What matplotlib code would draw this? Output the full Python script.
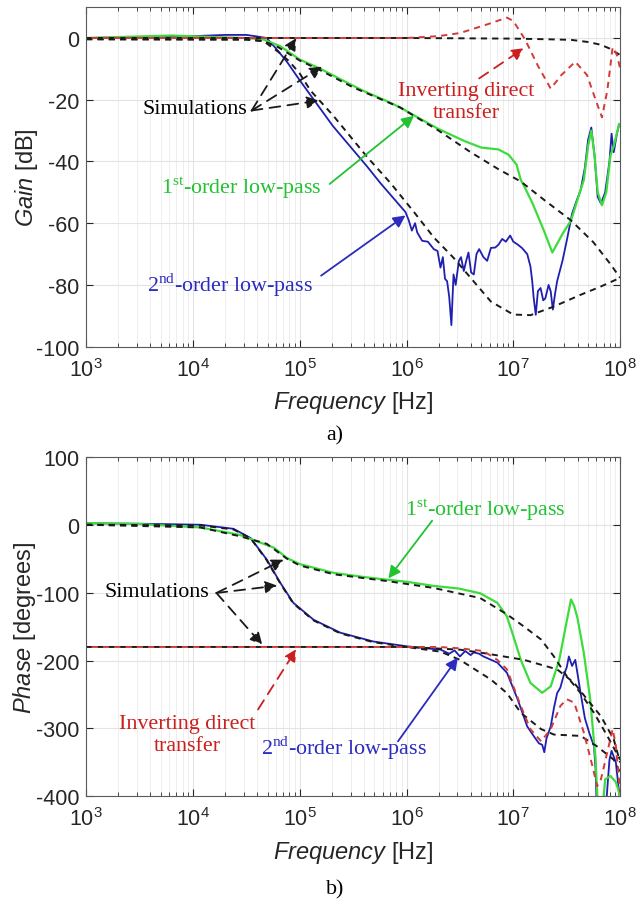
import numpy as np
import matplotlib
matplotlib.use('Agg')
import matplotlib.pyplot as plt

plt.rcParams['font.family'] = ['Liberation Sans', 'DejaVu Sans']
plt.rcParams['mathtext.fontset'] = 'custom'
plt.rcParams['mathtext.rm'] = 'Liberation Serif'
plt.rcParams['mathtext.it'] = 'Liberation Sans:italic'
plt.rcParams['axes.unicode_minus'] = False

# ---------- gain data (log10 of frequency, dB) ----------
lf_g_inv_sim = [3, 6.0, 7.0, 7.3, 7.54, 7.7, 7.82, 7.9, 7.97, 8.0]
g_inv_sim = [0, 0, -0.2, -0.4, -0.6, -1.3, -2.2, -3.4, -4.9, -5.5]

lf_g_inv = [3, 6.0, 6.3, 6.5, 6.755, 6.94, 7.0, 7.11, 7.23, 7.35, 7.45, 7.58,
            7.69, 7.76, 7.83, 7.88, 7.93, 7.97, 8.0]
g_inv = [0, 0, 0.6, 1.6, 4.4, 6.6, 5.5, -0.5, -9, -16.4, -12, -7.7,
         -12, -19, -25.7, -17, -3, -5.5, -9.9]

lf_g_lp1_sim = [3, 4.5, 4.66, 4.8, 5.0, 5.19, 5.5, 5.94, 6.3, 6.6, 6.86, 7.07,
                7.29, 7.54, 7.75, 7.91, 8.0]
g_lp1_sim = [-0.4, -0.5, -1, -3, -7.3, -10.4, -16, -22.5, -30, -37, -42.5, -46.5,
             -52.5, -59.1, -66.2, -73.3, -77.7]

lf_g_lp1 = [3, 3.5, 3.8, 4.2, 4.5, 4.66, 4.82, 5.0, 5.19, 5.4, 5.6, 5.8, 5.94,
            6.057, 6.3, 6.55, 6.7, 6.86, 6.955, 7.03, 7.07, 7.11, 7.18, 7.286,
            7.365, 7.46, 7.54, 7.6, 7.66, 7.7, 7.73, 7.76, 7.79, 7.83, 7.87,
            7.91, 7.94, 7.99]
g_lp1 = [0, 0.5, 0.8, 0.3, 0, -0.5, -2.7, -7, -9.9, -13.7, -17.2, -20.2, -22.5,
         -24.8, -29.5, -33.5, -35.5, -36.1, -37.8, -41, -46, -48.6, -53.6, -62.4,
         -69.5, -63.5, -59.1, -52.5, -46, -35, -30, -38, -50, -54.2, -50,
         -38, -35, -27.9]

lf_g_lp2_sim = [3, 4.5, 4.66, 4.8, 4.9, 5.0, 5.1, 5.31, 5.63, 5.85, 6.07, 6.255,
                6.44, 6.6, 6.79, 7.0, 7.16, 7.38, 7.63, 7.82, 8.0]
g_lp2_sim = [-0.4, -0.5, -1, -4.5, -7.5, -11.5, -17, -25, -38.5, -47, -56.4, -64.6,
             -71.2, -77.7, -85.4, -89.6, -89.8, -87, -83.2, -80.5, -77.7]

lf_g_lp2 = [3, 3.5, 4.0, 4.3, 4.5, 4.6, 4.69, 4.78, 4.88, 5.0, 5.31, 5.63, 5.755,
            5.88, 5.93, 5.99, 6.02, 6.05, 6.08, 6.1, 6.146, 6.2, 6.255, 6.29,
            6.318, 6.34, 6.36, 6.38, 6.40, 6.42, 6.44, 6.46, 6.49, 6.51, 6.536,
            6.56, 6.58, 6.605, 6.63, 6.655, 6.68, 6.72, 6.755, 6.79, 6.83, 6.86,
            6.896, 6.93, 6.97, 7.0, 7.036, 7.08, 7.13, 7.16, 7.177, 7.19, 7.21,
            7.23, 7.255, 7.28, 7.30, 7.33, 7.35, 7.37, 7.39, 7.41, 7.46, 7.5,
            7.55, 7.6, 7.63, 7.67, 7.7, 7.73, 7.76, 7.79, 7.82, 7.86, 7.9, 7.92,
            7.94, 7.97, 7.99]
g_lp2 = [0, 0.3, 0.6, 1.0, 1.0, 0.5, 0, -3.5, -7.7, -13.7, -28.5, -41.6, -47,
         -52, -54, -56.4, -59, -62.4, -60, -63, -65.7, -66, -68.4, -69,
         -74.4, -71, -78, -78.8, -84, -93, -76.6, -80, -72.2, -71, -75.5,
         -72, -69.5, -76, -76.6, -70, -68.4, -71, -72.2, -68, -67.9, -67,
         -65.1, -66, -64, -66, -66.8, -68, -70, -74, -78.8, -84, -89.7,
         -82, -81, -85, -84.3, -80, -82.1, -88, -83, -78.8, -72.2, -65.7,
         -56.9, -52, -49.3, -42, -33, -29, -38, -51.5, -53.6, -50, -40, -31,
         -37, -31, -28]

# ---------- phase data (log10 of frequency, degrees) ----------
lf_p_inv_sim = [3, 6.0, 6.5, 6.72, 7.1, 7.41, 7.57, 7.69, 7.82, 7.94, 8.0]
p_inv_sim = [-180, -180, -184, -189, -199, -213, -233, -257, -282, -316, -350]

lf_p_inv = [3, 6.3, 6.5, 6.72, 6.85, 6.94, 7.07, 7.16, 7.26, 7.35, 7.44, 7.5,
            7.57, 7.66, 7.74, 7.785, 7.82, 7.85, 7.93, 7.96, 8.0]
p_inv = [-180, -180, -182, -186, -199, -213, -267, -301, -319, -301, -267, -257,
         -262, -306, -355, -385, -375, -355, -301, -326, -394]

lf_p_lp1_sim = [3, 4.07, 4.44, 4.69, 4.88, 5.0, 5.32, 5.82, 6.25, 6.69, 6.94, 7.1,
                7.26, 7.38, 7.5, 7.63, 7.755, 7.88, 8.0]
p_lp1_sim = [0, -4, -17, -28, -50, -60, -73, -83, -93, -108, -132, -150,
             -169, -194, -223, -248, -277, -311, -346]

lf_p_lp1 = [3, 3.5, 4.07, 4.44, 4.76, 4.88, 5.0, 5.32, 5.6, 5.82, 6.0, 6.25, 6.49,
            6.69, 6.85, 6.94, 7.0, 7.07, 7.16, 7.27, 7.35, 7.43, 7.49, 7.54,
            7.57, 7.6, 7.66, 7.72, 7.77, 7.79, 7.84, 7.86, 7.91, 7.96, 7.99, 8.0]
p_lp1 = [2.5, 1, -4, -15, -34, -49, -58, -71, -77, -81, -84, -90, -94,
         -101, -115, -135, -164, -199, -233, -247.5, -238, -199, -150, -110,
         -120, -137, -189, -257, -346, -410, -410, -375, -370, -379, -394, -400]

lf_p_lp2_sim = [3, 4.07, 4.38, 4.54, 4.69, 4.82, 4.94, 5.13, 5.38, 5.69, 6.0, 6.32,
                6.5, 6.79, 6.94, 7.07, 7.26, 7.38, 7.63, 7.78, 7.94, 8.0]
p_lp2_sim = [0, -1, -7, -20, -52, -87, -116, -141, -160, -173, -180, -187,
             -199, -228, -248, -277, -301, -309, -311, -326, -346, -365]

lf_p_lp2 = [3, 3.5, 4.07, 4.38, 4.54, 4.69, 4.82, 4.94, 5.13, 5.38, 5.69, 6.0,
            6.32, 6.4, 6.45, 6.5, 6.55, 6.6, 6.63, 6.68, 6.72, 6.85, 6.94, 7.04,
            7.13, 7.19, 7.24, 7.27, 7.29, 7.31, 7.35, 7.38, 7.41, 7.44, 7.47,
            7.5, 7.52, 7.55, 7.58, 7.63, 7.67, 7.71, 7.755, 7.77, 7.78, 7.87,
            7.9, 7.92, 7.96, 7.99, 8.0]
p_lp2 = [2, 1.5, 0, -6, -19.6, -51, -86, -115, -140, -159, -172, -179,
         -184, -190, -185, -194, -186, -192, -188, -190, -194, -203, -218, -257,
         -297, -311, -322, -324, -335, -315, -297, -270, -248, -240, -223,
         -210, -194, -208, -199, -248, -285, -306, -326, -360, -410, -410,
         -346, -333, -350, -394, -405]

GREEN = '#3ddc3d'
GREEN_T = '#22c232'
BLUE = '#1f1fb0'
BLUE_T = '#2b2bbf'
RED = '#d23a3a'
RED_T = '#cc1f1f'
BLACK = '#1a1a1a'
DASH = (0, (3.2, 2.6))
DASH_OFF = (3.0, (3.2, 2.6))


def hz(lf):
    return 10 ** np.asarray(lf, dtype=float)


def style_axes(ax, yticks, ylim):
    ax.set_xscale('log')
    ax.set_xlim(1e3, 1e8)
    ax.set_ylim(*ylim)
    ax.set_yticks(yticks)
    ax.grid(True, which='major', color='#e3e3e3', lw=0.8)
    ax.grid(True, which='minor', axis='x', color='#ebebeb', lw=0.6, ls='-')
    ax.tick_params(which='both', direction='in', top=True, right=True,
                   labelsize=15.5, colors='#262626')
    ax.tick_params(axis='x', pad=8)
    ax.tick_params(axis='y', pad=5)
    ax.tick_params(which='major', length=5)
    ax.tick_params(which='minor', length=3)
    for s in ax.spines.values():
        s.set_color('#5a5a5a')
        s.set_linewidth(0.8)
    ax.set_axisbelow(True)


TXT = dict(family='Liberation Serif', fontsize=15.8)
LBL = dict(fontsize=17, color='#262626')
solid_arrow = dict(arrowstyle='-|>', lw=1.3, mutation_scale=18,
                   shrinkA=0, shrinkB=0)
dash_arrow = dict(arrowstyle='-|>', color=BLACK, lw=1.3, ls=(0, (6, 4)),
                  mutation_scale=18, shrinkA=0, shrinkB=0)

fig = plt.figure(figsize=(6.38, 9.03), dpi=100)
ax1 = fig.add_axes([0.135, 0.615, 0.837, 0.376])
ax2 = fig.add_axes([0.135, 0.117, 0.837, 0.376])

# ---------------- a) gain ----------------
ax1.plot(hz(lf_g_lp2), g_lp2, color=BLUE, lw=1.3)
ax1.plot(hz(lf_g_lp1), g_lp1, color=GREEN, lw=1.6)
ax1.plot(hz(lf_g_lp1_sim), g_lp1_sim, color=BLACK, lw=1.4, ls=DASH)
ax1.plot(hz(lf_g_lp2_sim), g_lp2_sim, color=BLACK, lw=1.4, ls=DASH)
ax1.plot(hz(lf_g_inv_sim), g_inv_sim, color=BLACK, lw=1.4, ls=DASH)
ax1.plot(hz(lf_g_inv), g_inv, color=RED, lw=1.4, ls=DASH_OFF)
style_axes(ax1, [-100, -80, -60, -40, -20, 0], (-100, 10))
ax1.set_xlabel(r'$\mathit{Frequency}$ [Hz]', labelpad=6, **LBL)
ax1.set_ylabel(r'$\mathit{Gain}$ [dB]', labelpad=-3, **LBL)

ax1.text(10 ** 4.02, -23, 'Simulations', ha='center', va='center', color='black', **TXT)
for tip in [(4.97, 0), (5.21, -9.3), (5.18, -20.3)]:
    ax1.annotate('', xy=(10 ** tip[0], tip[1]), xytext=(10 ** 4.55, -23.5),
                 arrowprops=dash_arrow)

ax1.text(10 ** 4.45, -48.3, r'1$^{\mathrm{st}}$-order low-pass', ha='center',
         va='center', color=GREEN_T, **TXT)
ax1.annotate('', xy=(10 ** 6.07, -25.2), xytext=(10 ** 5.28, -47.3),
             arrowprops=dict(solid_arrow, color=GREEN_T))

ax1.text(10 ** 4.35, -79.8, r'2$^{\mathrm{nd}}$-order low-pass', ha='center',
         va='center', color=BLUE_T, **TXT)
ax1.annotate('', xy=(10 ** 5.99, -57.5), xytext=(10 ** 5.2, -77),
             arrowprops=dict(solid_arrow, color=BLUE_T))

ax1.text(10 ** 6.56, -20.7, 'Inverting direct\ntransfer', ha='center',
         va='center', color=RED_T, linespacing=1.2, **TXT)
ax1.annotate('', xy=(10 ** 7.1, -3.3), xytext=(10 ** 6.68, -13.1),
             arrowprops=dict(dash_arrow, color=RED_T))

# ---------------- b) phase ----------------
ax2.plot(hz(lf_p_lp2), p_lp2, color=BLUE, lw=1.3)
ax2.plot(hz(lf_p_lp1), p_lp1, color=GREEN, lw=1.6)
ax2.plot(hz(lf_p_lp1_sim), p_lp1_sim, color=BLACK, lw=1.4, ls=DASH)
ax2.plot(hz(lf_p_lp2_sim), p_lp2_sim, color=BLACK, lw=1.4, ls=DASH)
ax2.plot(hz(lf_p_inv_sim), p_inv_sim, color=BLACK, lw=1.4, ls=DASH)
ax2.plot(hz(lf_p_inv), p_inv, color=RED, lw=1.4, ls=DASH_OFF)
style_axes(ax2, [-400, -300, -200, -100, 0, 100], (-400, 100))
ax2.set_xlabel(r'$\mathit{Frequency}$ [Hz]', labelpad=6, **LBL)
ax2.set_ylabel(r'$\mathit{Phase}$ [degrees]', labelpad=-2, **LBL)

ax2.text(10 ** 6.74, 23.5, r'1$^{\mathrm{st}}$-order low-pass', ha='center',
         va='center', color=GREEN_T, **TXT)
ax2.annotate('', xy=(10 ** 5.83, -79), xytext=(10 ** 6.24, 6),
             arrowprops=dict(solid_arrow, color=GREEN_T))

ax2.text(10 ** 3.66, -98.5, 'Simulations', ha='center', va='center',
         color='black', **TXT)
for tip in [(4.85, -51.5), (4.79, -89.7), (4.65, -177)]:
    ax2.annotate('', xy=(10 ** tip[0], tip[1]), xytext=(10 ** 4.22, -100.5),
                 arrowprops=dash_arrow)

ax2.text(10 ** 3.95, -309, 'Inverting direct\ntransfer', ha='center',
         va='center', color=RED_T, linespacing=1.2, **TXT)
ax2.annotate('', xy=(10 ** 4.97, -183), xytext=(10 ** 4.61, -272),
             arrowprops=dict(dash_arrow, color=RED_T))

ax2.text(10 ** 5.41, -328, r'2$^{\mathrm{nd}}$-order low-pass', ha='center',
         va='center', color=BLUE_T, **TXT)
ax2.annotate('', xy=(10 ** 6.48, -195.6), xytext=(10 ** 5.92, -319),
             arrowprops=dict(solid_arrow, color=BLUE_T))

fig.text(0.525, 1 - 436 / 903, 'a)', ha='center', va='center', **TXT)
fig.text(0.525, 1 - 890 / 903, 'b)', ha='center', va='center', **TXT)

fig.savefig('out.png', dpi=100)
